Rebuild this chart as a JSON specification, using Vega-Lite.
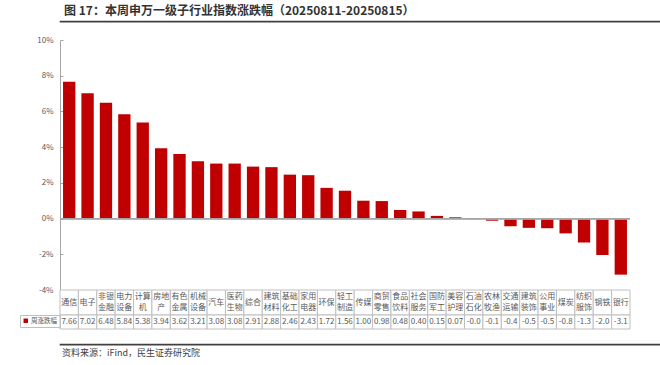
{
  "$schema": "https://vega.github.io/schema/vega-lite/v6.json",
  "padding": {"left": 8, "right": 10, "top": 4, "bottom": 5},
  "background": "white",
  "config": {"font": "Noto Sans CJK SC", "view": {"stroke": null}},
  "datasets": {
    "main": [
      {"name": "通信", "single": "通信", "line1": "", "line2": "", "value": 7.66, "vlabel": "7.66"},
      {"name": "电子", "single": "电子", "line1": "", "line2": "", "value": 7.02, "vlabel": "7.02"},
      {"name": "非银金融", "single": "", "line1": "非银", "line2": "金融", "value": 6.48, "vlabel": "6.48"},
      {"name": "电力设备", "single": "", "line1": "电力", "line2": "设备", "value": 5.84, "vlabel": "5.84"},
      {"name": "计算机", "single": "", "line1": "计算", "line2": "机", "value": 5.38, "vlabel": "5.38"},
      {"name": "房地产", "single": "", "line1": "房地", "line2": "产", "value": 3.94, "vlabel": "3.94"},
      {"name": "有色金属", "single": "", "line1": "有色", "line2": "金属", "value": 3.62, "vlabel": "3.62"},
      {"name": "机械设备", "single": "", "line1": "机械", "line2": "设备", "value": 3.21, "vlabel": "3.21"},
      {"name": "汽车", "single": "汽车", "line1": "", "line2": "", "value": 3.08, "vlabel": "3.08"},
      {"name": "医药生物", "single": "", "line1": "医药", "line2": "生物", "value": 3.08, "vlabel": "3.08"},
      {"name": "综合", "single": "综合", "line1": "", "line2": "", "value": 2.91, "vlabel": "2.91"},
      {"name": "建筑材料", "single": "", "line1": "建筑", "line2": "材料", "value": 2.88, "vlabel": "2.88"},
      {"name": "基础化工", "single": "", "line1": "基础", "line2": "化工", "value": 2.46, "vlabel": "2.46"},
      {"name": "家用电器", "single": "", "line1": "家用", "line2": "电器", "value": 2.43, "vlabel": "2.43"},
      {"name": "环保", "single": "环保", "line1": "", "line2": "", "value": 1.72, "vlabel": "1.72"},
      {"name": "轻工制造", "single": "", "line1": "轻工", "line2": "制造", "value": 1.56, "vlabel": "1.56"},
      {"name": "传媒", "single": "传媒", "line1": "", "line2": "", "value": 1.00, "vlabel": "1.00"},
      {"name": "商贸零售", "single": "", "line1": "商贸", "line2": "零售", "value": 0.98, "vlabel": "0.98"},
      {"name": "食品饮料", "single": "", "line1": "食品", "line2": "饮料", "value": 0.48, "vlabel": "0.48"},
      {"name": "社会服务", "single": "", "line1": "社会", "line2": "服务", "value": 0.40, "vlabel": "0.40"},
      {"name": "国防军工", "single": "", "line1": "国防", "line2": "军工", "value": 0.15, "vlabel": "0.15"},
      {"name": "美容护理", "single": "", "line1": "美容", "line2": "护理", "value": 0.07, "vlabel": "0.07"},
      {"name": "石油石化", "single": "", "line1": "石油", "line2": "石化", "value": -0.03, "vlabel": "-0.0"},
      {"name": "农林牧渔", "single": "", "line1": "农林", "line2": "牧渔", "value": -0.12, "vlabel": "-0.1"},
      {"name": "交通运输", "single": "", "line1": "交通", "line2": "运输", "value": -0.43, "vlabel": "-0.4"},
      {"name": "建筑装饰", "single": "", "line1": "建筑", "line2": "装饰", "value": -0.52, "vlabel": "-0.5"},
      {"name": "公用事业", "single": "", "line1": "公用", "line2": "事业", "value": -0.54, "vlabel": "-0.5"},
      {"name": "煤炭", "single": "煤炭", "line1": "", "line2": "", "value": -0.83, "vlabel": "-0.8"},
      {"name": "纺织服饰", "single": "", "line1": "纺织", "line2": "服饰", "value": -1.34, "vlabel": "-1.3"},
      {"name": "钢铁", "single": "钢铁", "line1": "", "line2": "", "value": -2.04, "vlabel": "-2.0"},
      {"name": "银行", "single": "银行", "line1": "", "line2": "", "value": -3.14, "vlabel": "-3.1"}
    ]
  },
  "spacing": 13,
  "resolve": {"scale": {"color": "independent"}, "legend": {"color": "independent"}},
  "vconcat": [
    {
      "width": 642,
      "height": 0.5,
      "view": {"stroke": "#404040", "strokeWidth": 1.2},
      "title": {"text": "图 17：本周申万一级子行业指数涨跌幅（20250811-20250815）", "anchor": "start", "fontSize": 12, "fontWeight": "bold", "color": "#333333", "offset": 3, "dx": 4},
      "data": {"values": [{}]},
      "mark": {"type": "text", "fontSize": 0},
      "encoding": {"text": {"value": ""}}
    },
    {
      "spacing": 13,
      "resolve": {"scale": {"color": "independent"}, "legend": {"color": "independent"}},
      "vconcat": [
        {
          "spacing": 0,
          "bounds": "flush",
          "resolve": {"scale": {"x": "independent", "y": "independent", "color": "independent"}, "legend": {"color": "independent"}},
          "vconcat": [
            {
              "width": 570,
              "height": 250,
              "view": {"stroke": null},
              "data": {"name": "main"},
              "layer": [
                {
                  "mark": {"type": "bar", "color": "#C00000"},
                  "encoding": {
                    "x": {"field": "name", "type": "nominal", "sort": null, "axis": null, "scale": {"paddingInner": 0.33, "paddingOuter": 0.165}},
                    "y": {"field": "value", "type": "quantitative", "scale": {"domain": [-4, 10], "nice": false, "zero": false},
                      "axis": {"values": [-4, -2, 0, 2, 4, 6, 8, 10], "tickCount": 8, "labelExpr": "datum.value + '%'", "title": null, "grid": false,
                        "labelOverlap": false, "labelFlush": false, "labelBound": false, "labelSeparation": 0,
                        "domainColor": "#a6a6a6", "tickColor": "#a6a6a6", "tickSize": -3, "labelPadding": 10, "labelFontSize": 8,
                        "labelColor": "#595959", "minExtent": 52, "maxExtent": 52}}
                  }
                },
                {
                  "mark": {"type": "rule", "color": "#a6a6a6", "strokeWidth": 1},
                  "encoding": {"y": {"datum": 0, "type": "quantitative",
                      "axis": {"values": [-4, -2, 0, 2, 4, 6, 8, 10], "tickCount": 8, "labelExpr": "datum.value + '%'", "title": null, "grid": false,
                        "labelOverlap": false, "labelFlush": false, "labelBound": false, "labelSeparation": 0,
                        "domainColor": "#a6a6a6", "tickColor": "#a6a6a6", "tickSize": -3, "labelPadding": 10, "labelFontSize": 8,
                        "labelColor": "#595959", "minExtent": 52, "maxExtent": 52}}}
                }
              ]
            },
            {
              "width": 570,
              "height": 25,
              "view": {"stroke": null},
              "data": {"name": "main"},
              "encoding": {"x": {"field": "name", "type": "nominal", "sort": null, "axis": null, "scale": {"paddingInner": 0, "paddingOuter": 0}}},
              "layer": [
                {"mark": {"type": "rect", "fill": "white", "stroke": "#bfbfbf", "strokeWidth": 1}},
                {"mark": {"type": "text", "fontSize": 8, "color": "#595959", "baseline": "middle"},
                 "encoding": {"text": {"field": "single"}}},
                {"mark": {"type": "text", "fontSize": 8, "color": "#595959", "baseline": "middle", "dy": -5.5},
                 "encoding": {"text": {"field": "line1"}}},
                {"mark": {"type": "text", "fontSize": 8, "color": "#595959", "baseline": "middle", "dy": 5.5},
                 "encoding": {"text": {"field": "line2"}}}
              ]
            },
            {
              "width": 570,
              "height": 14,
              "view": {"stroke": null},
              "layer": [
                {"data": {"name": "main"},
                 "mark": {"type": "rect", "fill": "white", "stroke": "#bfbfbf", "strokeWidth": 1},
                 "encoding": {"x": {"field": "name", "type": "nominal", "sort": null, "axis": null, "scale": {"paddingInner": 0, "paddingOuter": 0}}}},
                {"data": {"name": "main"},
                 "mark": {"type": "text", "fontSize": 8, "color": "#595959", "baseline": "middle"},
                 "encoding": {"x": {"field": "name", "type": "nominal", "sort": null, "axis": null}, "text": {"field": "vlabel"}}},
                {"data": {"values": [{"series": "周涨跌幅"}]},
                 "mark": {"type": "square", "opacity": 0},
                 "encoding": {"color": {"field": "series", "type": "nominal", "scale": {"range": ["#C00000"]},
                   "legend": {"orient": "left", "offset": 0, "title": null, "symbolType": "square", "symbolSize": 20, "symbolOpacity": 1,
                     "symbolStrokeWidth": 0, "labelFontSize": 6.5, "labelColor": "#595959", "labelOffset": 2, "padding": 2.5, "strokeColor": "#bfbfbf"}}}}
              ]
            }
          ]
        },
        {
          "width": 642,
          "height": 0.5,
          "view": {"stroke": "#404040", "strokeWidth": 1.2},
          "title": {"text": "资料来源：iFind，民生证券研究院", "orient": "bottom", "anchor": "start", "fontSize": 9, "fontWeight": "normal", "color": "#404040", "offset": 4, "dx": 2},
          "data": {"values": [{}]},
          "mark": {"type": "text", "fontSize": 0},
          "encoding": {"text": {"value": ""}}
        }
      ]
    }
  ]
}
